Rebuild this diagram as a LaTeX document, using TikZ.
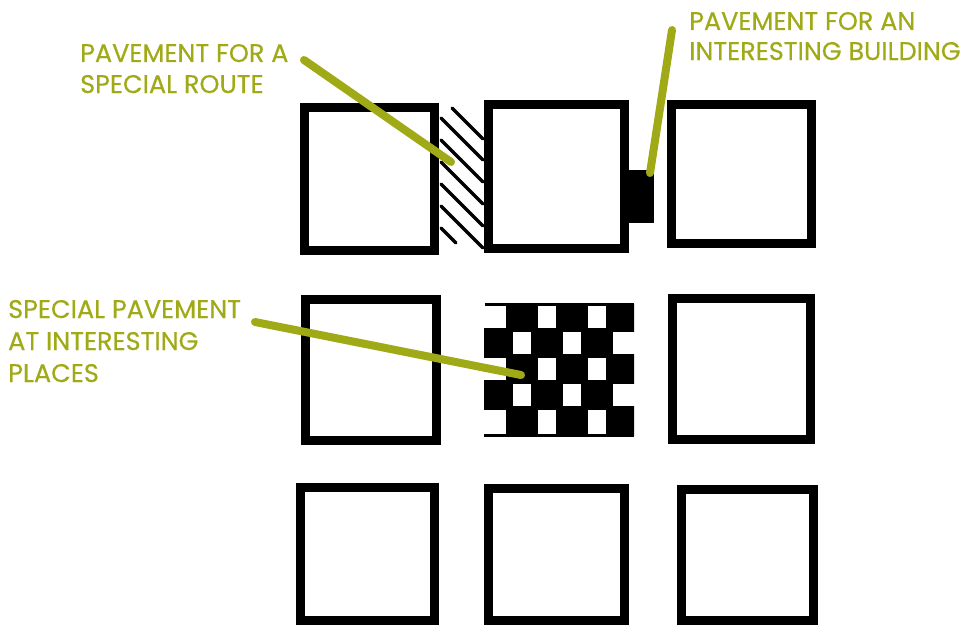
\documentclass[tikz,border=0pt]{standalone}
\usepackage{fontspec}
\newfontfamily\labelfont[FakeBold=0.4]{Poppins}
\definecolor{leaf}{RGB}{160,170,22}
\begin{document}
\begin{tikzpicture}[x=1pt,y=-1pt,
  box/.style={draw=black, line width=9pt, inner sep=0pt, rectangle},
  paving/.style={fill=black, inner sep=0pt, rectangle},
  hatchline/.style={draw=black, line width=3.5pt, line cap=round},
  leader/.style={draw=leaf, line width=8pt, line cap=round},
  lbl/.style={anchor=base west, inner sep=0pt, text=leaf, font=\labelfont\fontsize{25.5}{30}\selectfont}]
\useasboundingbox (0,0) rectangle (968,626);
\fill[white] (0,0) rectangle (968,626);

% blocks
\node[box, minimum width=130pt, minimum height=143pt] (A) at (369.5,179) {};
\node[box, minimum width=136pt, minimum height=144pt] (B) at (556.5,176.5) {};
\node[box, minimum width=140pt, minimum height=139pt] (C) at (741.5,174) {};
\node[box, minimum width=131pt, minimum height=141pt] (D) at (371,370) {};
\node[box, minimum width=138pt, minimum height=141pt] (F) at (741.5,369) {};
\node[box, minimum width=134pt, minimum height=133pt] (G) at (367.5,554) {};
\node[box, minimum width=136pt, minimum height=132pt] (H) at (556.5,554.5) {};
\node[box, minimum width=132pt, minimum height=131pt] (I) at (747.5,555) {};

% pavement for a building
\node[paving, minimum width=26pt, minimum height=53pt] (bld) at (641,196.5) {};

% hatched route
\draw[hatchline] (452,108) -- (483,139);
\draw[hatchline] (441,118) -- (483,160);
\draw[hatchline] (441,140) -- (483,182);
\draw[hatchline] (441,162) -- (483,204);
\draw[hatchline] (441,184) -- (483,226);
\draw[hatchline] (441,206) -- (483,248);
\draw[hatchline] (441,228) -- (456,243);

% checkerboard
\begin{scope}
\clip (484,304) rectangle (634,436);
\foreach \r in {0,...,4} {
  \foreach \c in {0,...,5} {
    \pgfmathtruncatemacro{\odd}{mod(\r+\c,2)}
    \ifnum\odd=1
      \fill[black] (484+25*\c-3.5, 304+26*\r-2) rectangle ++(32,30);
    \fi
  }
}
\end{scope}
\draw[line width=3pt] (485,304.5) -- (634,304.5);
\draw[line width=3pt] (484,435.5) -- (634,435.5);

% labels
\node[lbl] (t1a) at (80,62) {PAVEMENT FOR A};
\node[lbl] (t1b) at (80,93) {SPECIAL ROUTE};
\node[lbl] (t2a) at (689,30) {PAVEMENT FOR AN};
\node[lbl] (t2b) at (689,60) {INTERESTING BUILDING};
\node[lbl] (t3a) at (8,318) {SPECIAL PAVEMENT};
\node[lbl] (t3b) at (8,350) {AT INTERESTING};
\node[lbl] (t3c) at (8,382) {PLACES};

% leaders
\coordinate (l1s) at (304,60);
\coordinate (l1e) at (451,162);
\coordinate (l2s) at (672,30);
\coordinate (l2e) at (650,173);
\coordinate (l3s) at (255,322);
\coordinate (l3e) at (521,375);
\draw[leader] (l1s) -- (l1e);
\draw[leader] (l2s) -- (l2e);
\draw[leader] (l3s) -- (l3e);
\end{tikzpicture}
\end{document}
